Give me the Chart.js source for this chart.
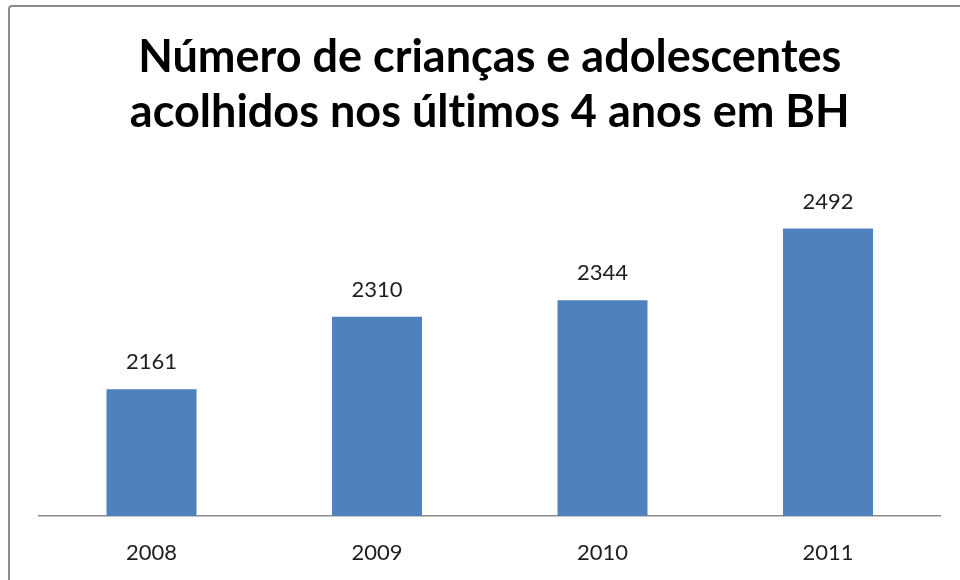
<!DOCTYPE html>
<html>
<head>
<meta charset="utf-8">
<script src="https://cdn.jsdelivr.net/npm/chart.js@4/dist/chart.umd.min.js"></script>
<style>
  html, body { margin: 0; padding: 0; background: #fff; }
  #wrap { position: relative; width: 960px; height: 580px; overflow: hidden; }
  #moldura { position: absolute; left: 8px; top: 5px; width: 970px; height: 600px;
             border: 2px solid #8c8c8c; border-radius: 4px; box-sizing: border-box; }
  canvas { position: absolute; left: 0; top: 0; }
</style>
</head>
<body>
<div id="wrap">
  <div id="moldura"></div>
  <canvas id="grafica" width="960" height="580"></canvas>
</div>
<script>
// dados
const anos = ['2008', '2009', '2010', '2011'];
const acolhidos = [2161, 2310, 2344, 2492];
// \u200C evita a ligadura "ti" do Lato
const titulo = ['Número de crianças e adolescentes', 'acolhidos nos últ\u200Cimos 4 anos em BH'];

const FONTE = 'Lato, "Open Sans", sans-serif';

// rótulos de valor em cima de cada barra
const rotulosBarras = {
  id: 'rotulosBarras',
  afterDatasetsDraw(chart) {
    const { ctx } = chart;
    const meta = chart.getDatasetMeta(0);
    ctx.save();
    ctx.font = '22px ' + FONTE;
    ctx.fillStyle = '#1e1e1e';
    ctx.textAlign = 'center';
    ctx.textBaseline = 'middle';
    meta.data.forEach((barra, i) => {
      ctx.fillText(String(acolhidos[i]), barra.x, barra.y - 27);
    });
    ctx.restore();
  }
};

new Chart(document.getElementById('grafica'), {
  type: 'bar',
  data: {
    labels: anos,
    datasets: [{
      data: acolhidos,
      backgroundColor: '#4F81BD',
      borderWidth: 0,
      categoryPercentage: 1,
      barPercentage: 0.399,
    }],
  },
  options: {
    responsive: false,
    animation: false,
    events: [],
    layout: { padding: { left: 38.75, right: 19.25, top: 0, bottom: 0 } },
    plugins: {
      legend: { display: false },
      tooltip: { enabled: false },
      title: {
        display: true,
        text: titulo,
        color: '#000',
        font: { family: FONTE, size: 45, weight: 'bold', lineHeight: 1.222 },
        padding: { top: 30, bottom: 36 },
      },
    },
    scales: {
      x: {
        grid: { drawOnChartArea: false, drawTicks: false },
        border: { display: true, color: '#8c8c8c', width: 1.5 },
        ticks: { color: '#1e1e1e', padding: 24, font: { family: FONTE, size: 22 } },
        afterFit(scale) { scale.height = 64; },
      },
      y: {
        display: false,
        min: 1900,
        max: 2600,
      },
    },
  },
  plugins: [rotulosBarras],
});
</script>
</body>
</html>
